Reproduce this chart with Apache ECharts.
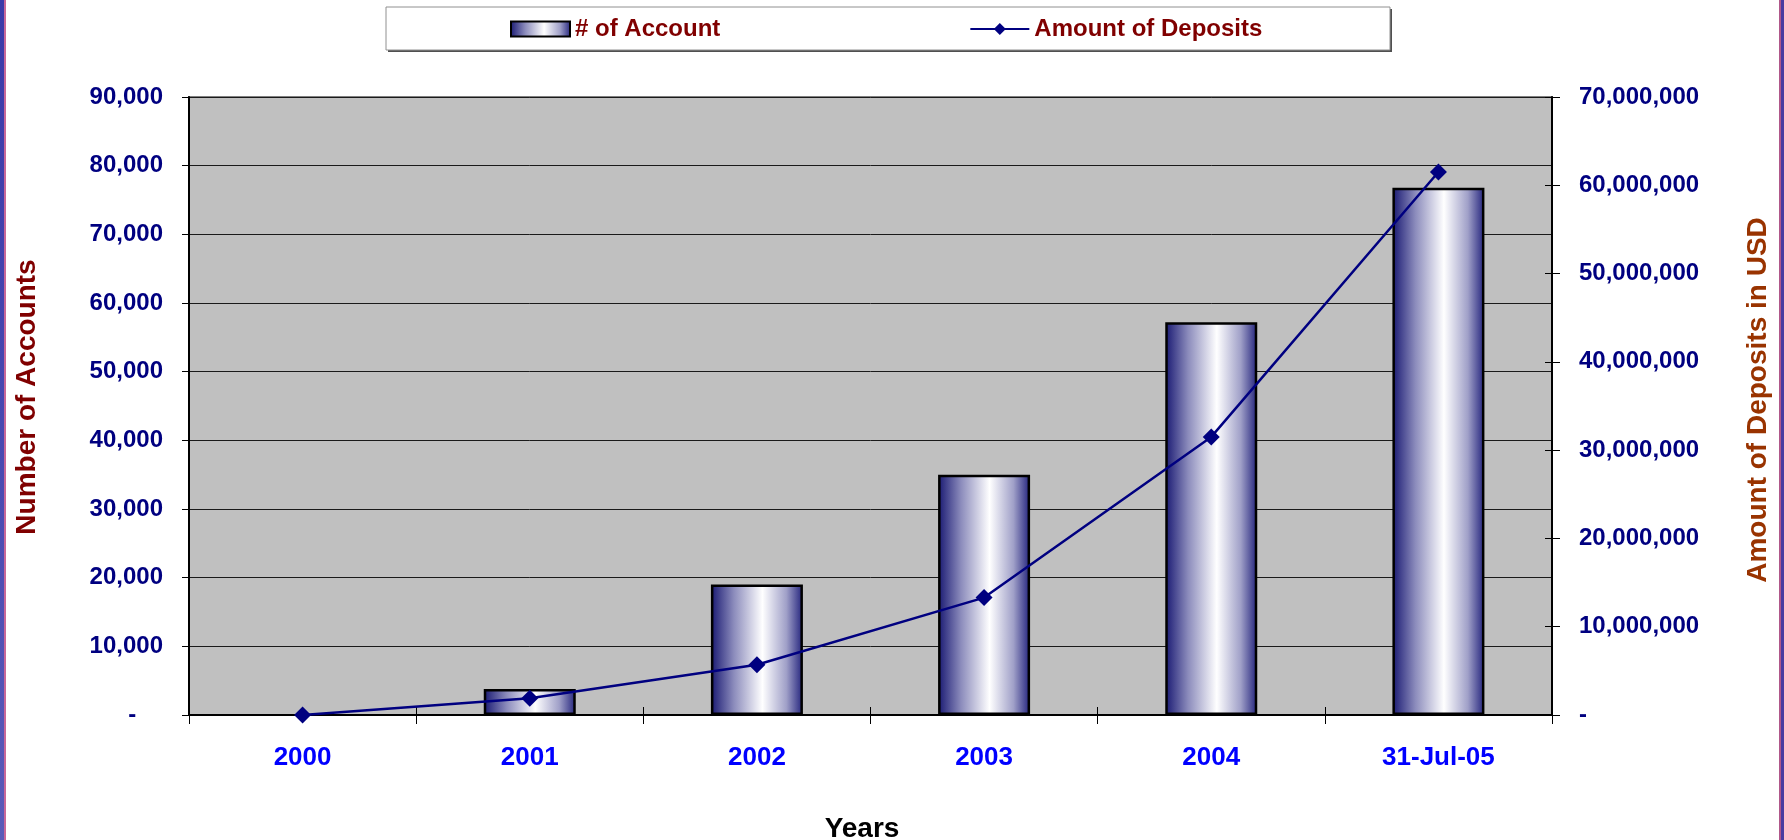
<!DOCTYPE html>
<html>
<head>
<meta charset="utf-8">
<script src="https://cdn.jsdelivr.net/npm/echarts@6/dist/echarts.min.js"></script>
<style>
  html, body { margin: 0; padding: 0; background: #ffffff; }
  #chart { width: 1784px; height: 840px; }
</style>
</head>
<body>
<div id="chart"></div>
<script>
// Categories and series values
const years = ['2000', '2001', '2002', '2003', '2004', '31-Jul-05'];
const accountCounts = [0, 3800, 19000, 35000, 57200, 76800];
const depositAmounts = [0, 1900000, 5700000, 13300000, 31500000, 61500000];

// Axis scales
const accountAxisMax = 90000;
const accountAxisStep = 10000;
const depositAxisMax = 70000000;
const depositAxisStep = 10000000;

const FONT = '"Liberation Sans", Arial, sans-serif';
const NAVY = '#000080';

function thousands(v) {
  return Math.round(v).toString().replace(/\B(?=(\d{3})+(?!\d))/g, ',');
}

const barFill = new echarts.graphic.LinearGradient(0, 0, 1, 0, [
  { offset: 0, color: '#181872' },
  { offset: 0.25, color: '#8c8cbc' },
  { offset: 0.56, color: '#ffffff' },
  { offset: 0.82, color: '#a0a0c8' },
  { offset: 1, color: '#22227c' }
]);

// empty years get no outlined stub
const barData = accountCounts.map(v => v === 0 ? { value: v, itemStyle: { borderWidth: 0 } } : v);

const chart = echarts.init(document.getElementById('chart'), null, { renderer: 'canvas' });

const option = {
  backgroundColor: '#ffffff',
  animation: false,
  grid: {
    left: 189, right: 232, top: 97, bottom: 125,
    show: true,
    backgroundColor: '#c0c0c0',
    borderColor: '#808080',
    borderWidth: 2
  },
  legend: {
    left: 505,
    top: 12,
    itemWidth: 59,
    itemHeight: 15,
    itemGap: 249,
    textStyle: { color: '#800000', fontWeight: 'bold', fontSize: 24, fontFamily: FONT },
    data: [
      { name: '# of Account', icon: 'rect' },
      { name: 'Amount of Deposits' }
    ]
  },
  xAxis: [
    {
      type: 'category',
      data: years,
      boundaryGap: true,
      position: 'bottom',
      axisLine: { lineStyle: { color: '#000', width: 2 } },
      axisTick: { show: true, interval: 0, length: 9, lineStyle: { color: '#000', width: 1 } },
      axisLabel: { color: '#0000ff', fontWeight: 'bold', fontSize: 26, fontFamily: FONT, margin: 30, interval: 0 },
      splitLine: { show: false }
    },
    {
      type: 'category',
      data: years,
      boundaryGap: true,
      position: 'bottom',
      axisLine: { show: false },
      axisTick: { show: true, inside: true, interval: 0, length: 8, lineStyle: { color: '#000', width: 1 } },
      axisLabel: { show: false },
      splitLine: { show: false }
    }
  ],
  yAxis: [
    {
      type: 'value',
      position: 'left',
      min: 0, max: accountAxisMax, interval: accountAxisStep,
      axisLine: { show: true, lineStyle: { color: '#000', width: 2 } },
      axisTick: { show: true, length: 7, lineStyle: { color: '#000', width: 1 } },
      axisLabel: {
        color: NAVY, fontWeight: 'bold', fontSize: 24, fontFamily: FONT, margin: 26,
        formatter: v => v === 0 ? '-    ' : thousands(v)
      },
      splitLine: { show: true, lineStyle: { color: '#1a1a1a', width: 1 } }
    },
    {
      type: 'value',
      position: 'right',
      min: 0, max: depositAxisMax, interval: depositAxisStep,
      axisLine: { show: true, lineStyle: { color: '#000', width: 2 } },
      axisTick: { show: true, length: 8, lineStyle: { color: '#000', width: 1 } },
      axisLabel: {
        color: NAVY, fontWeight: 'bold', fontSize: 24, fontFamily: FONT, margin: 27,
        formatter: v => v === 0 ? '-' : thousands(v)
      },
      splitLine: { show: false }
    },
    {
      type: 'value',
      position: 'right',
      min: 0, max: depositAxisMax, interval: depositAxisStep,
      axisLine: { show: false },
      axisTick: { show: true, inside: true, length: 7, lineStyle: { color: '#000', width: 1 } },
      axisLabel: { show: false },
      splitLine: { show: false }
    }
  ],
  series: [
    {
      name: '# of Account',
      type: 'bar',
      xAxisIndex: 0,
      yAxisIndex: 0,
      data: barData,
      barWidth: 92,
      itemStyle: { color: barFill, borderColor: '#000', borderWidth: 2.5 }
    },
    {
      name: 'Amount of Deposits',
      type: 'line',
      xAxisIndex: 0,
      yAxisIndex: 1,
      data: depositAmounts,
      symbol: 'diamond',
      symbolSize: 17,
      lineStyle: { color: NAVY, width: 2.5 },
      itemStyle: { color: NAVY },
      z: 5
    }
  ],
  graphic: [
    // slide frame stripes at the page edges
    { type: 'rect', z: 100, shape: { x: 0, y: 0, width: 4, height: 840 },
      style: { fill: new echarts.graphic.LinearGradient(0, 0, 0, 1, [
        { offset: 0, color: '#3a3aa8' }, { offset: 0.5, color: '#4848b0' }, { offset: 1, color: '#5a5ab8' }]) } },
    { type: 'rect', z: 100, shape: { x: 4, y: 0, width: 2, height: 840 }, style: { fill: '#c8689a' } },
    { type: 'rect', z: 100, shape: { x: 1779, y: 0, width: 2, height: 840 }, style: { fill: '#b0588a' } },
    { type: 'rect', z: 100, shape: { x: 1781, y: 0, width: 3, height: 840 }, style: { fill: '#4a3aa0' } },
    // legend frame with shadow
    { type: 'rect', z: -1, shape: { x: 388, y: 9, width: 1004, height: 43 }, style: { fill: '#505050' } },
    { type: 'rect', z: -1, shape: { x: 386, y: 7, width: 1004, height: 43 },
      style: { fill: '#ffffff', stroke: '#909090', lineWidth: 1 } },
    // axis titles
    { type: 'text', x: 27, y: 397, rotation: Math.PI / 2,
      style: { text: 'Number of Accounts', fill: '#800000', font: 'bold 28px ' + FONT, align: 'center', verticalAlign: 'middle' } },
    { type: 'text', x: 1758, y: 400, rotation: Math.PI / 2,
      style: { text: 'Amount of Deposits in USD', fill: '#993300', font: 'bold 28px ' + FONT, align: 'center', verticalAlign: 'middle' } },
    { type: 'text', x: 862, y: 829,
      style: { text: 'Years', fill: '#000000', font: 'bold 28px ' + FONT, align: 'center', verticalAlign: 'middle' } }
  ]
};

chart.setOption(option);
</script>
</body>
</html>
